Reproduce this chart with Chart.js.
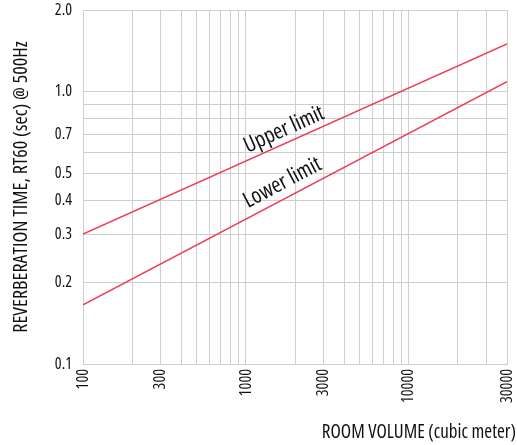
<!DOCTYPE html>
<html>
<head>
<meta charset="utf-8">
<script src="https://cdn.jsdelivr.net/npm/chart.js@4"></script>
<style>
    html, body { margin: 0; padding: 0; background: #fff; }
    canvas { display: block; }
</style>
</head>
<body>
<canvas id="rtChart" width="517" height="445"></canvas>
<script>
// room volume (m3) at the two ends of each line
const volumes = [100, 40000];
const upperLimit = [0.3, 1.5];
const lowerLimit = [0.165, 1.09];

// grid lines and the labelled ticks
const xGrid = [100, 200, 300, 400, 500, 600, 700, 800, 900,
    1000, 2000, 3000, 4000, 5000, 6000, 7000, 8000, 9000,
    10000, 20000, 30000, 40000];
const xLabelValues = [100, 300, 1000, 3000, 10000, 40000];
const xLabelTexts = ['100', '300', '1000', '3000', '10000', '30000'];
const yGrid = [0.1, 0.2, 0.3, 0.4, 0.5, 0.6, 0.7, 0.8, 0.9, 1.0, 2.0];
const yLabelValues = [0.1, 0.2, 0.3, 0.4, 0.5, 0.7, 1.0, 2.0];
const yLabelTexts = ['0.1', '0.2', '0.3', '0.4', '0.5', '0.7', '1.0', '2.0'];

const seriesNames = ['Upper limit', 'Lower limit'];
const xTitle = 'ROOM VOLUME (cubic meter)';
const yTitle = 'REVERBERATION TIME, RT60 (sec) @ 500Hz';

// 'condensed' goes into the css font shorthand, open sans has a width axis
const FONT = "'Open Sans', sans-serif";
const WEIGHT = '500 condensed';
const INK = '#111';
const RED = '#ee3b55';
const GRID = '#cfcfcf';

function labelFor(values, texts, v) {
    const i = values.findIndex(x => Math.abs(x - v) < 1e-9);
    return i < 0 ? '' : texts[i];
}

// series names along their lines + x title flush with the canvas edge
const extraText = {
    id: 'extraText',
    afterDatasetsDraw(chart) {
        const { ctx, scales: { x, y } } = chart;
        const spots = [
            { at: 1850, offset: 13 },
            { at: 1850, offset: 15 }
        ];
        ctx.save();
        ctx.fillStyle = INK;
        ctx.font = WEIGHT + ' 22px ' + FONT;
        ctx.textAlign = 'center';
        ctx.textBaseline = 'middle';
        chart.data.datasets.forEach((ds, i) => {
            const [p0, p1] = ds.data;
            const t = (Math.log10(spots[i].at) - Math.log10(p0.x)) / (Math.log10(p1.x) - Math.log10(p0.x));
            const yv = Math.pow(10, Math.log10(p0.y) + t * (Math.log10(p1.y) - Math.log10(p0.y)));
            const px = x.getPixelForValue(spots[i].at);
            const py = y.getPixelForValue(yv);
            const ang = Math.atan2(y.getPixelForValue(p1.y) - y.getPixelForValue(p0.y),
                x.getPixelForValue(p1.x) - x.getPixelForValue(p0.x));
            ctx.translate(px, py);
            ctx.rotate(ang);
            ctx.fillText(ds.label, 0, -spots[i].offset);
            ctx.setTransform(1, 0, 0, 1, 0, 0);
        });

        ctx.font = WEIGHT + ' 19px ' + FONT;
        ctx.textAlign = 'right';
        ctx.textBaseline = 'alphabetic';
        ctx.fillText(xTitle, chart.width - 1, 438);
        ctx.restore();
    }
};

const toPoints = vals => volumes.map((v, i) => ({ x: v, y: vals[i] }));

new Chart(document.getElementById('rtChart'), {
    type: 'line',
    data: {
        datasets: [
            { label: seriesNames[0], data: toPoints(upperLimit) },
            { label: seriesNames[1], data: toPoints(lowerLimit) }
        ].map(ds => ({ ...ds, borderColor: RED, borderWidth: 1.5, pointRadius: 0, tension: 0, fill: false }))
    },
    options: {
        responsive: false,
        animation: false,
        layout: { padding: { top: 10, right: 10, left: 0, bottom: 0 } },
        plugins: { legend: { display: false }, tooltip: { enabled: false } },
        scales: {
            x: {
                type: 'logarithmic',
                min: 100,
                max: 40000,
                afterBuildTicks: s => { s.ticks = xGrid.map(v => ({ value: v })); },
                afterFit: s => { s.height = 81; s.paddingLeft = 0; s.paddingRight = 0; },
                grid: { color: GRID, drawTicks: false },
                border: { color: GRID },
                ticks: {
                    autoSkip: false,
                    minRotation: 90,
                    maxRotation: 90,
                    padding: 5,
                    color: INK,
                    font: { family: FONT, size: 16, weight: WEIGHT },
                    callback: v => labelFor(xLabelValues, xLabelTexts, v)
                }
            },
            y: {
                type: 'logarithmic',
                min: 0.1,
                max: 2.0,
                afterBuildTicks: s => { s.ticks = yGrid.map(v => ({ value: v })); },
                afterFit: s => { s.width = 83; s.paddingTop = 0; s.paddingBottom = 0; },
                grid: { color: GRID, drawTicks: false },
                border: { color: GRID },
                ticks: {
                    autoSkip: false,
                    padding: 11,
                    color: INK,
                    font: { family: FONT, size: 16, weight: WEIGHT },
                    callback: v => labelFor(yLabelValues, yLabelTexts, v)
                },
                title: {
                    display: true,
                    text: yTitle,
                    color: INK,
                    font: { family: FONT, size: 20, weight: WEIGHT },
                    padding: { top: 9, bottom: 0 }
                }
            }
        }
    },
    plugins: [extraText]
});
</script>
</body>
</html>
